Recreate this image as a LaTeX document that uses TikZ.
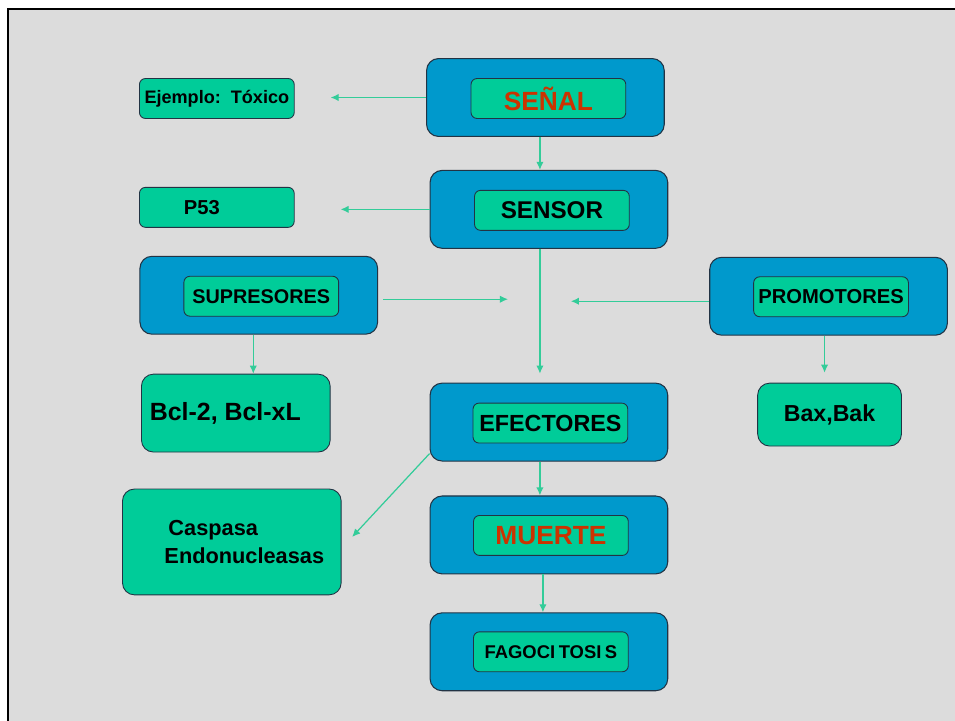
\documentclass[tikz,border=0pt]{standalone}
\usepackage{fontspec}
\setmainfont{Liberation Sans}
\usepackage{tikz}
\usetikzlibrary{positioning, arrows.meta}
\definecolor{fondo}{HTML}{DCDCDC}
\definecolor{azul}{HTML}{0099CC}
\definecolor{verde}{HTML}{00CC99}
\definecolor{flecha}{HTML}{33CC99}
\definecolor{rojo}{HTML}{CC3300}
\definecolor{borde}{HTML}{223344}
\tikzset{
->, % all connectors are directed
>={Latex[length=4.6pt, width=4.2pt]}, % small filled heads
every path/.style={draw=flecha, line width=0.7pt},
caja/.style={draw=borde, fill=azul, rounded corners=0.24cm, line width=0.6pt, minimum width=4.76cm, minimum height=1.56cm},
etiq/.style={draw=borde, fill=verde, rounded corners=0.12cm, line width=0.5pt, minimum width=3.1cm, minimum height=0.8cm, inner sep=0pt, font=\bfseries},
hoja/.style={draw=borde, fill=verde, rounded corners=0.24cm, line width=0.5pt, inner sep=0pt, font=\bfseries},
}

\begin{document}
\begin{tikzpicture}[x=0.02cm, y=-0.02cm]
        \useasboundingbox (0,0) rectangle (955,720);
        \fill[white] (0,0) rectangle (955,720);
        \draw[-, draw=black, fill=fondo, line width=1.1pt] (7,8) rectangle (965,730);

        % central column
        \node[caja] (senal) at (545.5,97) {};
        \node[etiq, font=\bfseries\fontsize{15}{18}\selectfont, text=rojo] (senalt) at (548.5,98) {SEÑAL};
        \node[caja] (sensor) at (549,209) {};
        \node[etiq, font=\bfseries\fontsize{13.8}{16}\selectfont] (sensort) at (552,210) {SENSOR};
        \node[caja] (efect) at (549,422) {};
        \node[etiq, font=\bfseries\fontsize{13.3}{16}\selectfont] (efectt) at (550.5,423) {EFECTORES};
        \node[caja] (muerte) at (549,535) {};
        \node[etiq, font=\bfseries\fontsize{15}{18}\selectfont, text=rojo] (muertet) at (551,535.5) {MUERTE};
        \node[caja] (fago) at (549,652) {};
        \node[etiq, font=\bfseries\fontsize{10.5}{12}\selectfont] (fagot) at (551,652) {FAGOCI\kern2pt TOSI\kern2pt S};

        % side boxes
        \node[caja] (supre) at (258.5,295) {};
        \node[etiq, font=\bfseries\fontsize{11.3}{13}\selectfont] (supret) at (261,296) {SUPRESORES};
        \node[caja] (promo) at (829,296) {};
        \node[etiq, font=\bfseries\fontsize{11.5}{13}\selectfont] (promot) at (831.5,296.5) {PROMOTORES};

        % leaves
        \node[hoja, rounded corners=0.12cm, minimum width=3.1cm, minimum height=0.8cm, font=\bfseries\fontsize{10.3}{12}\selectfont] (ejemplo) at (216.5,98) {Ejemplo:\ \ Tóxico};
        \node[hoja, rounded corners=0.12cm, minimum width=3.1cm, minimum height=0.8cm, font=\bfseries\fontsize{11.5}{13}\selectfont] (p53) at (216.5,207) {P53\kern0.6cm\null};
        \node[hoja, minimum width=3.78cm, minimum height=1.56cm, font=\bfseries\fontsize{14.2}{16}\selectfont] (bcl) at (235.5,413) {Bcl-2,\ Bcl-xL\kern0.42cm\null};
        \node[hoja, minimum width=2.88cm, minimum height=1.26cm, font=\bfseries\fontsize{13.2}{16}\selectfont] (bax) at (830,414.5) {Bax,Bak};
        \node[hoja, minimum width=4.38cm, minimum height=2.12cm, align=left, font=\bfseries\fontsize{12.4}{16.4}\selectfont] (casp) at (231.5,542) {\hspace{0.58cm}Caspasa\\\hspace{0.5cm}Endonucleasas};

        % free ends
        \coordinate (jl) at (508,299);
        \coordinate (jr) at (571,301);
        \coordinate (ce) at (352,537);

        \draw[shorten >=0.72cm] (senal.west) -- (senal.west -| ejemplo.east);
        \draw ([xshift=-0.11cm]senal.south) -- ([xshift=-0.11cm]senal.south |- sensor.north);
        \draw[shorten >=0.92cm] (sensor.west) -- (sensor.west -| p53.east);
        \draw[shorten >=0.18cm] ([xshift=-0.18cm]sensor.south) -- ([xshift=-0.18cm]sensor.south |- efect.north);
        \draw[shorten <=0.1cm] (jl -| supre.east) -- (jl);
        \draw (jr -| promo.west) -- (jr);
        \draw ([xshift=-0.11cm]supre.south) -- ([xshift=-0.11cm]supre.south |- bcl.north);
        \draw[shorten >=0.2cm] ([xshift=-0.08cm]promo.south) -- ([xshift=-0.08cm]promo.south |- bax.north);
        \draw ([yshift=0.16cm]efect.south west) -- (ce);
        \draw ([xshift=-0.18cm]efect.south) -- ([xshift=-0.18cm]efect.south |- muerte.north);
        \draw ([xshift=-0.12cm]muerte.south) -- ([xshift=-0.12cm]muerte.south |- fago.north);
      \end{tikzpicture}
\end{document}
